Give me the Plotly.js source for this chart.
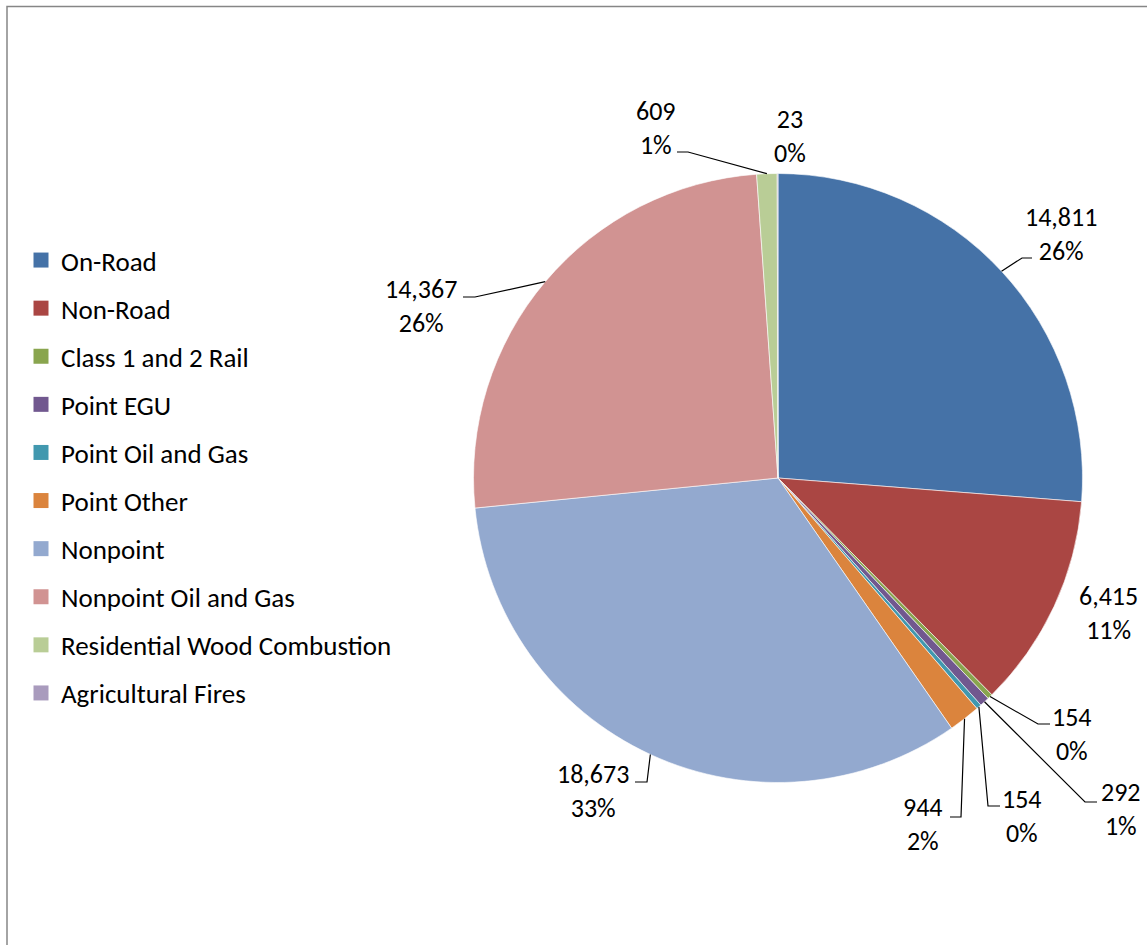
<!DOCTYPE html>
<html>
<head>
<meta charset="utf-8">
<script src="https://cdn.plot.ly/plotly-3.0.1.min.js"></script>
<style>
html,body{margin:0;padding:0;background:#fff;}
#chart{width:1147px;height:945px;}
</style>
</head>
<body>
<div id="chart"></div>
<script>
// ---- data ----
const categories = ['On-Road','Non-Road','Class 1 and 2 Rail','Point EGU','Point Oil and Gas','Point Other','Nonpoint','Nonpoint Oil and Gas','Residential Wood Combustion','Agricultural Fires'];
const emissions = [14811, 6415, 154, 292, 154, 944, 18673, 14367, 609, 23];
const sliceColors = ['#4572A7','#AA4643','#89A54E','#71588F','#4198AF','#DB843D','#93A9CF','#D19392','#B9CD96','#A99BBD'];

// ---- layout constants (pixels) ----
const W = 1147, H = 945;
const CX = 778, CY = 478, R = 304.5;
const FONT = 'Carlito, Calibri, Lato, sans-serif';
const FS = 26;
const LEGEND_FS = 27;

// label placement: block centre and leader-line elbow/end points (px), null = no leader
const labelPlacement = [
  {tx:1061, ty:234, path:[[1022,258],[1032,258]]},
  {tx:1108, ty:613, path:null},
  {tx:1072, ty:734, path:[[1038,724],[1050,724]]},
  {tx:1121, ty:809, path:[[1085,802],[1097,802]]},
  {tx:1022, ty:816, path:[[988,806],[1000,806]]},
  {tx:923,  ty:824, path:[[961,817],[950,817]]},
  {tx:593,  ty:791, path:[[647,782],[635,782]]},
  {tx:421,  ty:306, path:[[475,297],[463,297]]},
  {tx:656,  ty:128, path:[[688,152],[677,152]]},
  {tx:790,  ty:136, path:null}
];

const px = x => x / W;
const py = y => 1 - y / H;
const total = emissions.reduce((a,b)=>a+b,0);

// percentages rounded so they total 100 (largest remainder, as the spreadsheet does)
const raw = emissions.map(v => v/total*100);
const pcts = raw.map(Math.floor);
let short = 100 - pcts.reduce((a,b)=>a+b,0);
raw.map((r,i)=>({i, rem:r-Math.floor(r)})).sort((a,b)=>b.rem-a.rem)
   .slice(0, short).forEach(o => { pcts[o.i] += 1; });

const annotations = [];
const shapes = [];
let cum = 0;
emissions.forEach((v,i)=>{
  const mid = (cum + v/2) / total * 2*Math.PI;
  cum += v;
  const ex = CX + R*Math.sin(mid), ey = CY - R*Math.cos(mid);
  const lp = labelPlacement[i];
  annotations.push({
    xref:'paper', yref:'paper', x:px(lp.tx), y:py(lp.ty),
    xanchor:'center', yanchor:'middle', showarrow:false, align:'center',
    text: v.toLocaleString('en-US') + '<br>' + pcts[i] + '%',
    font:{family:FONT, size:FS, color:'#000'}
  });
  if (lp.path) {
    let d = 'M' + px(ex) + ',' + py(ey);
    lp.path.forEach(p => { d += ' L' + px(p[0]) + ',' + py(p[1]); });
    shapes.push({type:'path', xref:'paper', yref:'paper', path:d, line:{color:'#000', width:1.2}});
  }
});

// chart frame
shapes.push({type:'rect', xref:'paper', yref:'paper', x0:px(7), x1:1.2, y0:-0.2, y1:py(6.5), line:{color:'#868686', width:1.5}});

const pieTrace = {
  type:'pie', labels:categories, values:emissions, sort:false, direction:'clockwise', rotation:0,
  marker:{colors:sliceColors, line:{color:'#ffffff', width:0.6}},
  textinfo:'none', showlegend:false, hoverinfo:'label+value+percent',
  domain:{x:[px(CX-R), px(CX+R)], y:[py(CY+R), py(CY-R)]}
};

// legend entries
const legendTraces = categories.map((c,i)=>({
  type:'scatter', mode:'markers', name:c, x:[-10], y:[-10], legendgroup:'g'+i,
  marker:{symbol:'square', size:15, color:sliceColors[i], line:{width:0}},
  hoverinfo:'skip', showlegend:true
}));

const layout = {
  width:W, height:H, margin:{l:0,r:0,t:0,b:0},
  paper_bgcolor:'#fff', plot_bgcolor:'rgba(0,0,0,0)',
  xaxis:{visible:false, range:[0,1], fixedrange:true},
  yaxis:{visible:false, range:[0,1], fixedrange:true},
  showlegend:true,
  legend:{x:px(21), y:py(236), xanchor:'left', yanchor:'top', bgcolor:'rgba(0,0,0,0)',
          font:{family:FONT, size:LEGEND_FS, color:'#000'}, tracegroupgap:10, itemclick:false, itemdoubleclick:false},
  annotations:annotations, shapes:shapes
};

Plotly.newPlot('chart', [pieTrace].concat(legendTraces), layout, {displayModeBar:false, staticPlot:true});
</script>
</body>
</html>
